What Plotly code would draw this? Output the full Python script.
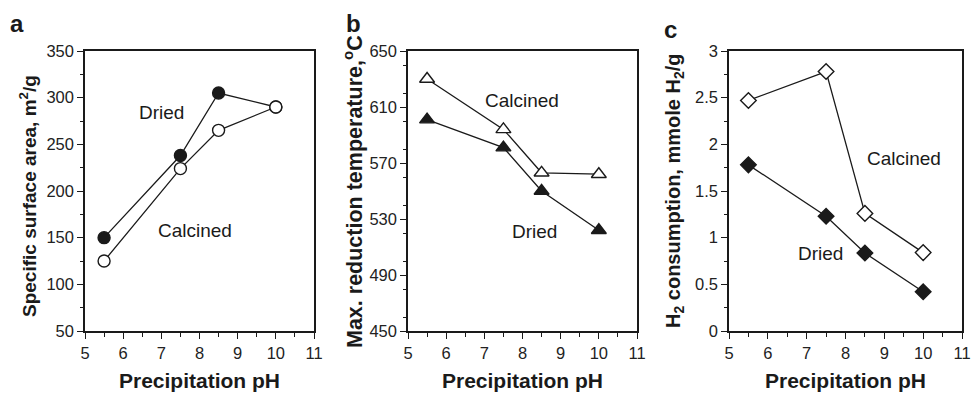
import plotly.graph_objects as go

ph = [5.5, 7.5, 8.5, 10]

# Panel a: specific surface area (m2/g)
area_dried = [150, 238, 305, 290]
area_calcined = [125, 224, 265, 290]

# Panel b: max reduction temperature (C)
temp_calcined = [630, 594, 563, 562]
temp_dried = [601, 581, 550, 522]

# Panel c: H2 consumption (mmole H2/g)
h2_calcined = [2.47, 2.78, 1.26, 0.84]
h2_dried = [1.78, 1.23, 0.835, 0.42]

W, H = 971, 394
FONT = "Liberation Sans, Arial, sans-serif"
INK = "#1a1a1a"

fig = go.Figure()

def add_series(x, y, xa, ya, symbol, filled, size):
    fig.add_trace(go.Scatter(
        x=x, y=y, xaxis=xa, yaxis=ya, mode="lines+markers",
        line=dict(color=INK, width=1.3),
        marker=dict(symbol=symbol, size=size,
                    color=INK if filled else "white",
                    line=dict(color=INK, width=1.4)),
        showlegend=False, cliponaxis=False))

add_series(ph, area_dried, "x", "y", "circle", True, 12)
add_series(ph, area_calcined, "x", "y", "circle", False, 12)
add_series(ph, temp_calcined, "x2", "y2", "triangle-up", False, 13)
add_series(ph, temp_dried, "x2", "y2", "triangle-up", True, 13)
add_series(ph, h2_calcined, "x3", "y3", "diamond", False, 12)
add_series(ph, h2_dried, "x3", "y3", "diamond", True, 12)

def px(v):
    return v / W

def py(v):
    return (H - v) / H

ydom = [py(331), py(51)]
tickfont = dict(family=FONT, size=16.5, color="#222")

def xax(l, r):
    return dict(domain=[px(l), px(r)], range=[5, 11], dtick=1, tick0=5,
                ticks="outside", ticklen=6, tickwidth=1.3, tickcolor=INK,
                minor=dict(dtick=0.5, ticks="outside", ticklen=4, tickwidth=1.2, tickcolor=INK),
                showline=True, linecolor=INK, linewidth=1.5, mirror=True,
                showgrid=False, zeroline=False, tickfont=tickfont, automargin=False)

def yax(anchor, rng, dt, mdt):
    return dict(domain=ydom, range=rng, dtick=dt, tick0=rng[0], anchor=anchor,
                ticks="outside", ticklen=6, tickwidth=1.3, tickcolor=INK,
                minor=dict(dtick=mdt, ticks="outside", ticklen=3, tickwidth=1.2, tickcolor=INK),
                showline=True, linecolor=INK, linewidth=1.5, mirror=True,
                showgrid=False, zeroline=False, tickfont=tickfont, automargin=False)

fig.update_layout(
    width=W, height=H, margin=dict(l=0, r=0, t=0, b=0),
    plot_bgcolor="white", paper_bgcolor="white",
    xaxis=dict(xax(85, 314), anchor="y"),
    yaxis=yax("x", [50, 350], 50, 25),
    xaxis2=dict(xax(408, 637), anchor="y2"),
    yaxis2=yax("x2", [450, 650], 40, 20),
    xaxis3=dict(xax(729, 962), anchor="y3"),
    yaxis3=yax("x3", [0, 3], 0.5, 0.25),
)

ann = []
def note(text, x, y, xref, yref, size=19, bold=False, angle=0):
    t = f"<b>{text}</b>" if bold else text
    ann.append(dict(text=t, x=x, y=y, xref=xref, yref=yref, showarrow=False,
                    textangle=angle, xanchor="center", yanchor="middle",
                    font=dict(family=FONT, size=size, color=INK)))

# in-plot labels
note("Dried", 7.0, 284, "x", "y")
note("Calcined", 7.88, 158, "x", "y")
note("Calcined", 7.98, 615, "x2", "y2")
note("Dried", 8.32, 521, "x2", "y2")
note("Calcined", 9.51, 1.85, "x3", "y3")
note("Dried", 7.35, 0.83, "x3", "y3")

# axis titles
for cx in [(85 + 314) / 2, (408 + 637) / 2, (729 + 962) / 2]:
    note("Precipitation pH", px(cx), py(380), "paper", "paper", size=21, bold=True)
note("Specific surface area, m<sup>2</sup>/g", px(28), py(196), "paper", "paper", size=19, bold=True, angle=-90)
note("Max. reduction temperature,<sup>o</sup>C", px(353), py(192), "paper", "paper", size=21.5, bold=True, angle=-90)
note("H<sub>2</sub> consumption, mmole H<sub>2</sub>/g", px(675), py(191), "paper", "paper", size=20, bold=True, angle=-90)

# panel letters
note("a", px(17), py(24), "paper", "paper", size=24, bold=True)
note("b", px(353), py(24), "paper", "paper", size=24, bold=True)
note("c", px(670), py(29), "paper", "paper", size=24, bold=True)

fig.update_layout(annotations=ann)
fig.write_html("out.html")
